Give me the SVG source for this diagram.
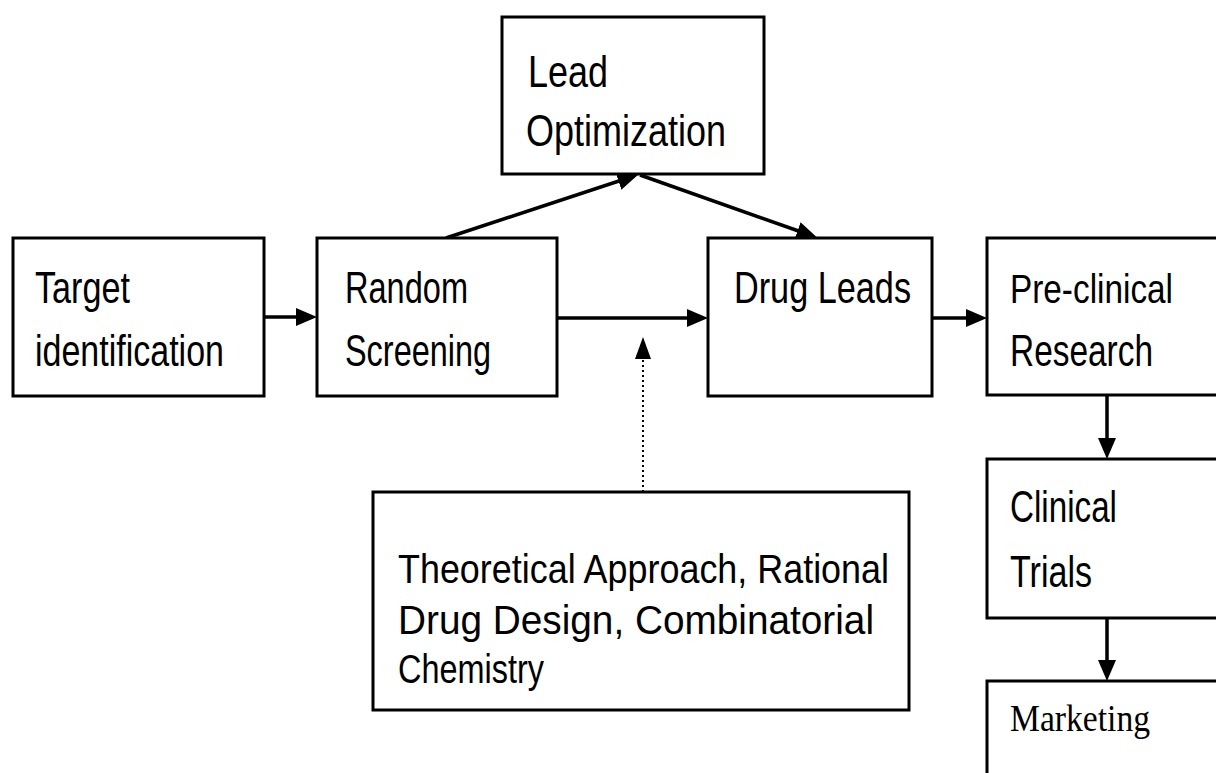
<svg xmlns="http://www.w3.org/2000/svg" width="1216" height="773" viewBox="0 0 1216 773">
<defs>
<style>
.box{fill:#fff;stroke:#000;stroke-width:3}
.t{font-family:"Liberation Sans",Arial,sans-serif;font-size:44px;fill:#000}
.s{font-family:"Liberation Sans",Arial,sans-serif;font-size:41px;fill:#000}
.m{font-family:"Liberation Serif","Times New Roman",serif;font-size:38px;fill:#000}
.c{fill:none;stroke:#000;stroke-width:3.5}
.d{fill:none;stroke:#000;stroke-width:2;stroke-dasharray:2 3}
</style>
<marker id="ah" markerUnits="userSpaceOnUse" markerWidth="22" markerHeight="20" refX="10" refY="9" orient="auto" viewBox="0 0 22 20">
<path d="M0,0 L21,9 L0,18 z" fill="#000"/>
</marker>
<marker id="ahd" markerUnits="userSpaceOnUse" markerWidth="24" markerHeight="18" refX="12" refY="8" orient="auto" viewBox="0 0 24 18">
<path d="M0,0 L22,8 L0,16 z" fill="#000"/>
</marker>
</defs>
<rect width="1216" height="773" fill="#fff"/>
<g id="connectors">
<path class="c" d="M264,317 L306,317" marker-end="url(#ah)"/>
<path class="c" d="M557,318 L697,318" marker-end="url(#ah)"/>
<path class="c" d="M932,318 L976,318" marker-end="url(#ah)"/>
<path class="c" d="M446,238 L628,178" marker-end="url(#ah)"/>
<path class="c" d="M640,175 L807,234" marker-end="url(#ah)"/>
<path class="c" d="M1107,395 L1107,448" marker-end="url(#ah)"/>
<path class="c" d="M1107,618 L1107,670" marker-end="url(#ah)"/>
<path class="d" d="M643,492 L643,347" marker-end="url(#ahd)"/>
</g>
<g id="target">
<rect class="box" x="13" y="238" width="251" height="158"/>
<text class="t" x="35" y="303" textLength="95" lengthAdjust="spacingAndGlyphs">Target</text>
<text class="t" x="35" y="366" textLength="189" lengthAdjust="spacingAndGlyphs">identification</text>
</g>
<g id="random">
<rect class="box" x="317" y="238" width="240" height="158"/>
<text class="t" x="345" y="303" textLength="123" lengthAdjust="spacingAndGlyphs">Random</text>
<text class="t" x="345" y="366" textLength="146" lengthAdjust="spacingAndGlyphs">Screening</text>
</g>
<g id="lead">
<rect class="box" x="502" y="17" width="262" height="157"/>
<text class="t" x="528" y="87" textLength="80" lengthAdjust="spacingAndGlyphs">Lead</text>
<text class="t" x="526" y="146" textLength="200" lengthAdjust="spacingAndGlyphs">Optimization</text>
</g>
<g id="drugleads">
<rect class="box" x="708" y="238" width="224" height="158"/>
<text class="t" x="734" y="303" textLength="177" lengthAdjust="spacingAndGlyphs">Drug Leads</text>
</g>
<g id="preclinical">
<path class="box" d="M1216,238 H987 V395 H1216"/>
<text class="t" x="1010" y="303" style="font-size:41px" textLength="163" lengthAdjust="spacingAndGlyphs">Pre-clinical</text>
<text class="t" x="1010" y="366" textLength="143" lengthAdjust="spacingAndGlyphs">Research</text>
</g>
<g id="clinical">
<path class="box" d="M1216,459 H987 V618 H1216"/>
<text class="t" x="1010" y="522" textLength="107" lengthAdjust="spacingAndGlyphs">Clinical</text>
<text class="t" x="1010" y="587" textLength="82" lengthAdjust="spacingAndGlyphs">Trials</text>
</g>
<g id="marketing">
<path class="box" d="M1216,681 H987 V773"/>
<text class="m" x="1010" y="731" textLength="140" lengthAdjust="spacingAndGlyphs">Marketing</text>
</g>
<g id="theoretical">
<rect class="box" x="373" y="492" width="536" height="218"/>
<text class="s" x="398" y="583" textLength="491" lengthAdjust="spacingAndGlyphs">Theoretical Approach, Rational</text>
<text class="s" x="398" y="634" textLength="476" lengthAdjust="spacingAndGlyphs">Drug Design, Combinatorial</text>
<text class="s" x="398" y="683" textLength="146" lengthAdjust="spacingAndGlyphs">Chemistry</text>
</g>
</svg>
